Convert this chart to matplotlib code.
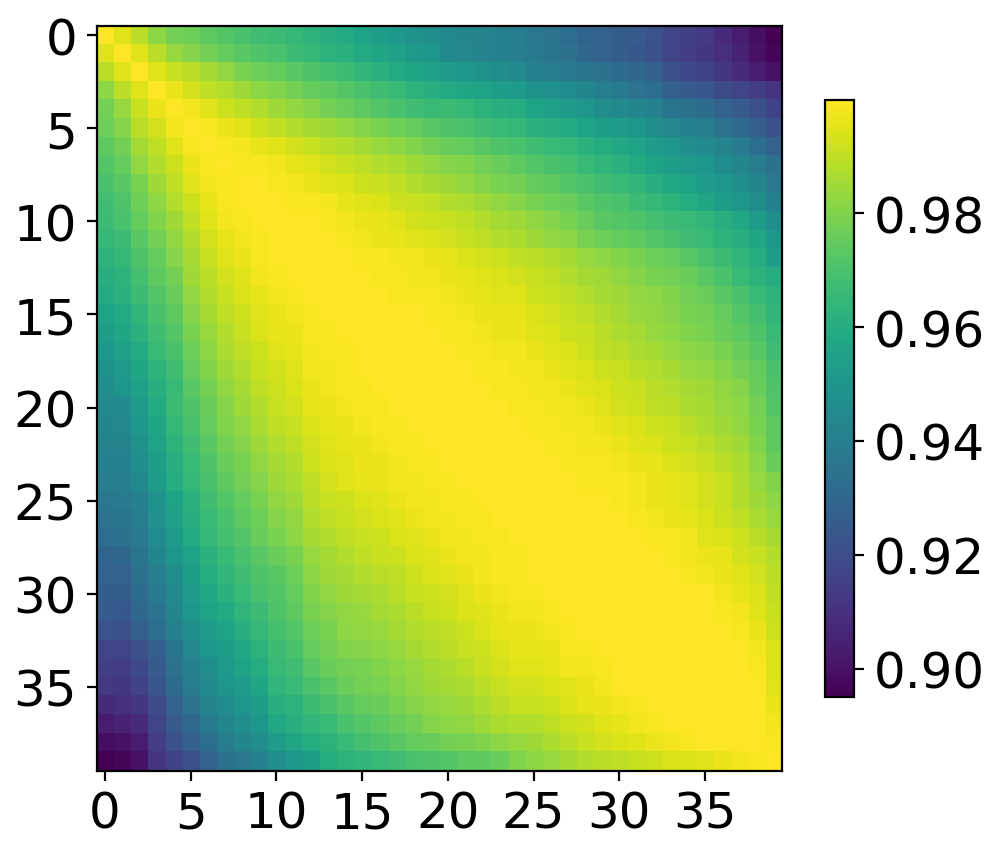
import numpy as np
import matplotlib
matplotlib.use("Agg")
import matplotlib.pyplot as plt

# Upper triangle of the symmetric matrix, thousandths, each row starts on the diagonal
upper_rows = [
 [1000,995,989,982,978,977,974,972,970,968,967,965,963,961,959,956,954,951,949,947,945,943,942,941,940,937,935,933,929,928,926,925,922,917,915,913,908,903,899,895],
 [1000,995,989,984,981,978,975,973,971,970,967,965,963,962,959,957,955,952,950,945,944,942,941,940,938,936,934,930,928,926,924,921,917,914,912,909,905,900,897],
 [1000,995,991,989,986,983,979,977,975,973,971,969,967,964,962,959,957,955,953,951,949,947,945,941,939,938,936,934,932,930,927,921,918,916,912,908,903,900],
 [1000,997,993,990,988,985,982,980,978,975,974,972,970,968,966,963,961,959,957,956,954,953,949,948,946,943,940,938,935,933,927,925,923,919,917,914,911],
 [1000,998,995,992,990,988,985,983,981,978,976,974,972,970,968,966,967,965,963,961,960,956,955,953,950,947,945,943,941,936,934,932,928,925,921,916],
 [1000,999,997,995,992,990,988,986,985,983,981,979,977,975,973,971,970,968,966,965,962,961,959,956,954,953,950,947,944,941,939,935,931,927,921],
 [1000,999,998,996,995,993,991,989,988,986,984,982,980,978,976,975,973,971,970,968,966,965,962,960,958,956,953,950,947,945,942,938,933,928],
 [1000,999,999,998,996,995,993,991,990,988,987,985,983,981,980,978,976,974,972,970,969,966,964,962,959,956,954,952,950,946,943,939,934],
 [1000,1000,999,998,997,995,994,992,991,990,988,986,985,983,981,979,978,975,974,972,970,968,966,964,961,958,956,953,950,947,943,937],
 [1000,1000,999,999,998,996,995,994,992,991,990,988,987,985,983,981,979,977,976,973,971,970,967,965,963,960,957,954,951,947,941],
 [1000,1000,1000,999,998,997,996,995,993,992,991,990,988,986,985,983,981,979,976,973,972,971,969,967,966,964,961,958,953,947],
 [1000,1000,1000,999,998,997,996,995,994,993,991,990,988,987,985,983,982,979,977,975,974,972,970,968,966,963,961,957,951],
 [1000,1000,1000,999,999,998,998,997,996,994,993,992,990,989,988,986,984,982,980,979,977,975,973,970,967,964,960,954],
 [1000,1000,1000,999,999,998,998,997,996,995,994,993,991,990,988,986,985,983,981,979,978,976,973,970,966,963,960],
 [1000,1000,1000,999,999,999,998,997,996,995,995,992,991,990,988,986,985,983,982,980,978,976,973,970,966,963],
 [1000,1000,1000,1000,999,999,998,997,997,996,994,993,991,990,988,986,984,983,981,979,978,975,972,969,964],
 [1000,1000,1000,1000,999,999,998,997,997,995,994,992,991,989,987,986,984,982,980,979,976,974,971,966],
 [1000,1000,1000,1000,999,999,998,998,997,995,994,992,990,989,987,986,984,982,981,979,976,973,968],
 [1000,1000,1000,1000,999,999,998,998,997,995,994,992,991,989,988,986,984,983,981,978,975,970],
 [1000,1000,1000,1000,999,999,998,998,997,995,994,992,991,989,988,986,985,983,981,976,971],
 [1000,1000,1000,1000,999,999,998,998,997,995,993,992,990,989,987,986,984,982,978,972],
 [1000,1000,1000,1000,999,999,998,998,997,995,994,992,991,989,987,985,983,979,974],
 [1000,1000,1000,1000,999,999,998,998,997,995,994,992,991,989,987,985,980,974],
 [1000,1000,1000,1000,999,999,999,998,997,996,994,993,991,989,987,982,976],
 [1000,1000,1000,1000,999,999,999,998,997,996,995,993,991,988,984,980],
 [1000,1000,1000,1000,1000,999,998,997,996,995,993,991,988,985,982],
 [1000,1000,1000,1000,1000,999,998,997,996,994,992,990,987,984],
 [1000,1000,1000,1000,1000,999,999,998,995,994,992,989,986],
 [1000,1000,1000,1000,1000,999,998,997,996,993,991,988],
 [1000,1000,1000,1000,1000,999,998,997,995,993,989],
 [1000,1000,1000,1000,1000,1000,998,996,994,990],
 [1000,1000,1000,1000,1000,999,998,995,991],
 [1000,1000,1000,1000,1000,999,997,992],
 [1000,1000,1000,1000,1000,998,994],
 [1000,1000,1000,1000,999,994],
 [1000,1000,1000,1000,995],
 [1000,1000,1000,997],
 [1000,1000,998],
 [1000,999],
 [1000],
]
tick_positions = [0, 5, 10, 15, 20, 25, 30, 35]
colorbar_ticks = [0.90, 0.92, 0.94, 0.96, 0.98]
colorbar_labels = ["0.90", "0.92", "0.94", "0.96", "0.98"]

n = len(upper_rows)
matrix = np.zeros((n, n))
for i, row in enumerate(upper_rows):
    assert len(row) == n - i, (i, len(row))
    matrix[i, i:] = np.array(row) / 1000
    matrix[i:, i] = np.array(row) / 1000

W, H = 997, 854
fig = plt.figure(figsize=(W / 200, H / 200), dpi=200)
ax = fig.add_axes([96.5 / W, 1 - 771.5 / H, (782 - 96.5) / W, (771.5 - 27) / H])
im = ax.imshow(matrix, cmap="viridis", vmin=0.895, vmax=1.0, aspect="auto", interpolation="nearest")
ax.set_xticks(tick_positions)
ax.set_yticks(tick_positions)
ax.tick_params(labelsize=18)

cax = fig.add_axes([825 / W, 1 - 698 / H, 29 / W, 597.5 / H])
cb = fig.colorbar(im, cax=cax)
cb.set_ticks(colorbar_ticks)
cb.set_ticklabels(colorbar_labels)
cb.ax.tick_params(labelsize=18)

fig.savefig("out.png", dpi=200)
